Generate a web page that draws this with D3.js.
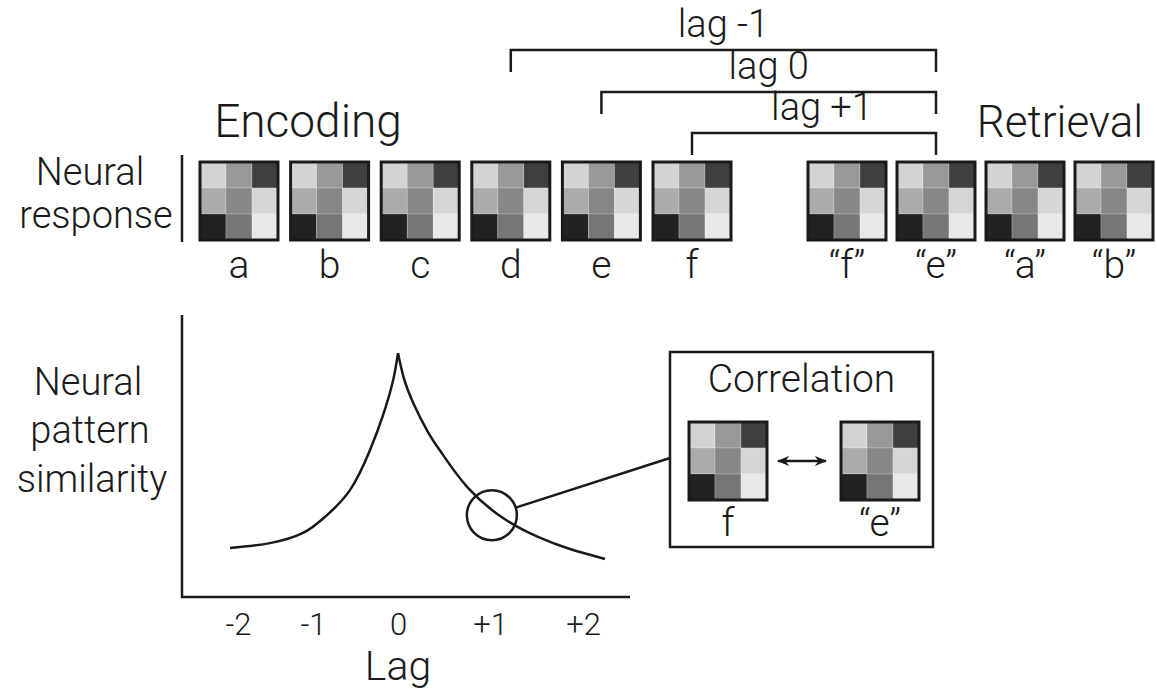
<!DOCTYPE html>
<html>
<head>
<meta charset="utf-8">
<script src="https://cdn.jsdelivr.net/npm/d3@7"></script>
<style>
  html, body { margin: 0; padding: 0; background: #fff; }
  svg text { font-family: "Roboto", "Liberation Sans", sans-serif; font-weight: 300; fill: #1a1a1a; }
</style>
</head>
<body>
<svg id="chart" width="1157" height="690"></svg>
<script>
// ---------- data ----------
const encodingItems = ["a", "b", "c", "d", "e", "f"];
const retrievalItems = ["\u201Cf\u201D", "\u201Ce\u201D", "\u201Ca\u201D", "\u201Cb\u201D"];
// gray levels of the 3x3 neural response pattern (rows top to bottom)
const patternRow1 = [211, 153, 63];
const patternRow2 = [171, 135, 214];
const patternRow3 = [34, 118, 232];
const lagBracketLabels = ["lag -1", "lag 0", "lag +1"];
const lagBracketEncoding = ["d", "e", "f"];
const lagBracketRetrieval = "\u201Ce\u201D";
const lagTicks = [-2, -1, 0, 1, 2];
const lagTickLabels = ["-2", "-1", "0", "+1", "+2"];
const leftLag = [-2.107, -1.573, -1.133, -0.859, -0.565, -0.329, -0.176, -0.06, 0];
const leftSim = [0.174, 0.191, 0.227, 0.284, 0.379, 0.521, 0.645, 0.765, 0.865];
const rightLag = [0, 0.06, 0.163, 0.326, 0.489, 0.761, 1.14, 1.516, 1.86, 2.237];
const rightSim = [0.865, 0.78, 0.69, 0.585, 0.504, 0.387, 0.280, 0.213, 0.170, 0.135];
const highlightLag = 1.02, highlightSim = 0.29;
const correlationPair = ["f", "\u201Ce\u201D"];

// ---------- drawing ----------
const svg = d3.select("#chart");
svg.append("rect").attr("width", 1157).attr("height", 690).attr("fill", "#fff");
const ink = "#1a1a1a";
const pattern = [patternRow1, patternRow2, patternRow3];
const G = 78;

function drawGrid(x, y) {
  const g = svg.append("g").attr("transform", `translate(${x},${y})`);
  const cell = d3.scaleBand().domain([0, 1, 2]).range([0, G]);
  pattern.forEach((row, r) => {
    row.forEach((v, c) => {
      g.append("rect")
        .attr("x", cell(c)).attr("y", cell(r))
        .attr("width", cell.bandwidth()).attr("height", cell.bandwidth())
        .attr("fill", d3.rgb(v, v, v))
        .attr("stroke", "rgba(255,255,255,0.35)").attr("stroke-width", 0.6);
    });
  });
  g.append("rect").attr("x", 0).attr("y", 0).attr("width", G).attr("height", G)
    .attr("fill", "none").attr("stroke", ink).attr("stroke-width", 3);
}

// top row
const encX = d3.scalePoint().domain(encodingItems).range([200, 653]);
const retX = d3.scalePoint().domain(retrievalItems).range([808, 1075]);
const gridTop = 162;

encodingItems.forEach(d => {
  drawGrid(encX(d), gridTop);
  svg.append("text").attr("x", encX(d) + G / 2).attr("y", 278)
    .attr("text-anchor", "middle").attr("font-size", 39).text(d);
});
retrievalItems.forEach(d => {
  drawGrid(retX(d), gridTop);
  svg.append("text").attr("x", retX(d) + G / 2).attr("y", 278)
    .attr("text-anchor", "middle").attr("font-size", 39).text(d);
});

svg.append("text").attr("x", 308).attr("y", 137).attr("text-anchor", "middle")
  .attr("font-size", 46).text("Encoding");
svg.append("text").attr("x", 1060).attr("y", 137).attr("text-anchor", "middle")
  .attr("font-size", 44).text("Retrieval");

// Neural response label
const nr = svg.append("text").attr("text-anchor", "middle").attr("font-size", 38);
nr.append("tspan").attr("x", 90).attr("y", 185).text("Neural");
nr.append("tspan").attr("x", 96).attr("y", 228).text("response");
svg.append("line").attr("x1", 182).attr("x2", 182).attr("y1", 155).attr("y2", 242)
  .attr("stroke", ink).attr("stroke-width", 2.5);

// brackets
const bracketY = [50, 92, 133];
const bracketDrop = 22;
lagBracketLabels.forEach((lab, i) => {
  const x1 = encX(lagBracketEncoding[i]) + G / 2;
  const x2 = retX(lagBracketRetrieval) + G / 2;
  const y = bracketY[i];
  svg.append("path")
    .attr("d", d3.line()([[x1, y + bracketDrop], [x1, y], [x2, y], [x2, y + bracketDrop]]))
    .attr("fill", "none").attr("stroke", ink).attr("stroke-width", 2.5);
  svg.append("text").attr("x", (x1 + x2) / 2 + (i === 2 ? 8 : 0)).attr("y", y - 13)
    .attr("text-anchor", "middle").attr("font-size", 38).text(lab);
});

// ---------- lag curve ----------
const x = d3.scaleLinear().domain(lagTicks).range([238, 313, 398, 490, 583]);
const y = d3.scaleLinear().domain([0, 1]).range([597, 315]);

svg.append("path")
  .attr("d", d3.line()([[182, y(1)], [182, y(0)], [630, y(0)]]))
  .attr("fill", "none").attr("stroke", ink).attr("stroke-width", 2.5);

const xAxis = svg.append("g").attr("transform", `translate(0,${y(0)})`)
  .call(d3.axisBottom(x).tickValues(lagTicks).tickSize(0).tickPadding(16)
    .tickFormat((d, i) => lagTickLabels[i]));
xAxis.select(".domain").remove();
xAxis.attr("font-family", null).attr("font-size", null);
xAxis.selectAll("text").attr("font-size", 31).attr("fill", ink);

svg.append("text").attr("x", x(0)).attr("y", 680).attr("text-anchor", "middle")
  .attr("font-size", 41).text("Lag");

const ys = svg.append("text").attr("text-anchor", "middle").attr("font-size", 38);
ys.append("tspan").attr("x", 88).attr("y", 395).text("Neural");
ys.append("tspan").attr("x", 90).attr("y", 443).text("pattern");
ys.append("tspan").attr("x", 92).attr("y", 492).text("similarity");

const line = d3.line().x(d => x(d[0])).y(d => y(d[1])).curve(d3.curveNatural);
const leftPts = leftLag.map((l, i) => [l, leftSim[i]]);
const rightPts = rightLag.map((l, i) => [l, rightSim[i]]);
[leftPts, rightPts].forEach(pts => {
  svg.append("path").attr("d", line(pts)).attr("fill", "none")
    .attr("stroke", ink).attr("stroke-width", 2.5);
});

// highlight circle and connector
const cx = x(highlightLag), cy = y(highlightSim), cr = 25;
svg.append("circle").attr("cx", cx).attr("cy", cy).attr("r", cr)
  .attr("fill", "none").attr("stroke", ink).attr("stroke-width", 2.5);

// correlation box
const box = { x: 670, y: 352, w: 263, h: 195 };
const ang = Math.atan2(458 - cy, box.x - cx);
svg.append("line")
  .attr("x1", cx + cr * Math.cos(ang)).attr("y1", cy + cr * Math.sin(ang))
  .attr("x2", box.x).attr("y2", 458)
  .attr("stroke", ink).attr("stroke-width", 2.5);
svg.append("rect").attr("x", box.x).attr("y", box.y).attr("width", box.w).attr("height", box.h)
  .attr("fill", "#fff").attr("stroke", ink).attr("stroke-width", 2.5);
svg.append("text").attr("x", box.x + box.w / 2).attr("y", 392).attr("text-anchor", "middle")
  .attr("font-size", 39).text("Correlation");

const corrX = d3.scalePoint().domain(correlationPair).range([689, 841]);
correlationPair.forEach(d => {
  drawGrid(corrX(d), 422);
  svg.append("text").attr("x", corrX(d) + G / 2).attr("y", 536)
    .attr("text-anchor", "middle").attr("font-size", 39).text(d);
});

const defs = svg.append("defs");
defs.append("marker").attr("id", "ah").attr("viewBox", "0 0 10 10")
  .attr("refX", 9).attr("refY", 5).attr("markerWidth", 5).attr("markerHeight", 5)
  .attr("markerUnits", "strokeWidth").attr("orient", "auto-start-reverse")
  .append("path").attr("d", "M0,1 L10,5 L0,9 L3,5 Z").attr("fill", ink);
svg.append("line").attr("x1", 778).attr("x2", 826).attr("y1", 461).attr("y2", 461)
  .attr("stroke", ink).attr("stroke-width", 2.5)
  .attr("marker-start", "url(#ah)").attr("marker-end", "url(#ah)");
</script>
</body>
</html>
